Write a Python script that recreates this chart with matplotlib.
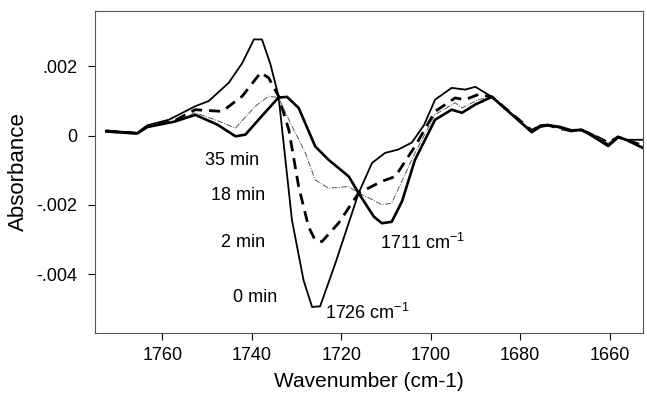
import matplotlib
matplotlib.use('Agg')
import matplotlib.pyplot as plt
from matplotlib import ticker

plt.rcParams['font.family'] = ['Liberation Sans', 'DejaVu Sans']
plt.rcParams['mathtext.fontset'] = 'custom'
plt.rcParams['mathtext.rm'] = 'Liberation Sans'
plt.rcParams['mathtext.it'] = 'Liberation Sans:italic'

# spectra (wavenumber in cm-1, absorbance)
wn_0min = [1772.5, 1765.6, 1763.3, 1758.5, 1752.6, 1749.6, 1745.1, 1742.1, 1739.5, 1737.7,
           1735.8, 1734.0, 1731.0, 1728.4, 1726.5, 1724.7, 1721.3, 1716.1, 1713.1, 1710.2,
           1707.2, 1704.2, 1701.5, 1699.0, 1695.3, 1692.3, 1690.0, 1686.3, 1677.4, 1675.5,
           1673.7, 1671.0, 1668.5, 1666.3, 1664.0, 1660.3, 1658.1, 1656.6, 1652.5]
abs_0min = [0.00015, 0.00008, 0.0003, 0.00046, 0.00085, 0.001, 0.00153, 0.0021, 0.00278, 0.00278,
            0.00206, 0.00114, -0.00244, -0.00418, -0.00495, -0.00493, -0.00369, -0.00166, -0.00079, -0.0005,
            -0.0004, -0.0002, 0.0003, 0.00104, 0.00138, 0.00133, 0.00141, 0.00112, 0.00012, 0.0003,
            0.00032, 0.00022, 0.00012, 0.00017, 0.00005, -0.00026, -0.00002, -0.00012, -0.00012]

wn_2min = [1772.5, 1765.6, 1763.3, 1757.4, 1752.6, 1746.6, 1742.1, 1738.0, 1736.2, 1734.0,
           1731.7, 1729.5, 1727.3, 1725.8, 1724.3, 1720.6, 1716.1, 1710.9, 1707.9, 1703.5,
           1699.0, 1694.5, 1692.3, 1689.3, 1686.3, 1677.4, 1675.5, 1673.7, 1671.0, 1668.5,
           1666.3, 1664.0, 1660.3, 1658.1, 1656.6, 1652.5]
abs_2min = [0.00013, 0.00007, 0.00027, 0.00042, 0.00075, 0.0007, 0.00114, 0.00182, 0.00167, 0.00114,
            0.00017, -0.00147, -0.00263, -0.00302, -0.00306, -0.00253, -0.00166, -0.00132, -0.00118, -0.00031,
            0.0007, 0.00109, 0.00104, 0.00119, 0.00112, 0.00015, 0.00028, 0.0003, 0.0002, 0.00014,
            0.00016, 0.00004, -0.0002, -0.00004, -0.0001, -0.00029]

wn_18min = [1772.5, 1765.6, 1763.3, 1757.4, 1752.6, 1748.0, 1743.6, 1739.2, 1736.2, 1734.0,
            1731.7, 1728.0, 1725.8, 1722.8, 1718.3, 1716.1, 1713.0, 1710.9, 1708.7, 1703.5,
            1699.0, 1694.5, 1693.0, 1689.3, 1686.3, 1677.4, 1675.5, 1673.7, 1671.0, 1668.5,
            1666.3, 1664.0, 1660.3, 1658.1, 1656.6, 1652.5]
abs_18min = [0.00013, 0.00007, 0.00026, 0.00041, 0.00066, 0.00045, 0.00022, 0.00085, 0.00114, 0.0011,
             0.00046, -0.0005, -0.00128, -0.00152, -0.00147, -0.00166, -0.00185, -0.002, -0.00195, -0.0005,
             0.00061, 0.00095, 0.0008, 0.00104, 0.00112, 0.00013, 0.00027, 0.0003, 0.00021, 0.00013,
             0.00016, 0.00003, -0.00022, -0.00003, -0.00011, -0.00032]

wn_35min = [1772.5, 1765.6, 1763.3, 1757.4, 1752.6, 1747.7, 1743.6, 1741.4, 1737.5, 1734.0,
            1732.1, 1729.5, 1725.8, 1722.8, 1718.3, 1716.1, 1712.7, 1710.9, 1708.7, 1706.4,
            1703.5, 1699.0, 1695.3, 1693.0, 1690.0, 1686.3, 1677.4, 1675.5, 1673.7, 1671.0,
            1668.5, 1666.3, 1664.0, 1660.3, 1658.1, 1656.6, 1652.5]
abs_35min = [0.00012, 0.00006, 0.00025, 0.0004, 0.0006, 0.00032, -0.00002, 0.00003, 0.0006, 0.0011,
             0.00112, 0.0008, -0.00031, -0.0007, -0.00118, -0.00166, -0.00234, -0.00253, -0.00249, -0.0019,
             -0.0007, 0.00046, 0.00075, 0.00066, 0.0009, 0.00112, 0.0001, 0.00026, 0.0003, 0.00025,
             0.00015, 0.00017, 0.0, -0.0003, -0.00005, -0.0001, -0.00036]

time_labels = ['35 min', '18 min', '2 min', '0 min']
time_label_x = [1738.3, 1737.0, 1737.0, 1734.3]
time_label_y = [-0.00073, -0.00174, -0.0031, -0.00467]

peak_labels = ['1726 cm$^{-1}$', '1711 cm$^{-1}$']
peak_label_x = [1723.6, 1711.3]
peak_label_y = [-0.00513, -0.0031]

x_ticks = [1760, 1740, 1720, 1700, 1680, 1660]
y_ticks = [-0.004, -0.002, 0, 0.002]
y_tick_labels = ['-.004', '-.002', '0', '.002']

fig = plt.figure(figsize=(6.47, 3.94), dpi=100)
ax = fig.add_axes([0.147, 0.155, 0.847, 0.817])

ax.plot(wn_0min, abs_0min, color='black', lw=1.3)
ax.plot(wn_2min, abs_2min, color='black', lw=2.0, ls=(0, (4, 2.5)))
ax.plot(wn_18min, abs_18min, color='#555555', lw=0.7, ls=(0, (6, 1.5, 1, 1.5)))
ax.plot(wn_35min, abs_35min, color='black', lw=1.9)

for t, x, y in zip(time_labels, time_label_x, time_label_y):
    ax.text(x, y, t, ha='right', va='center', fontsize=13)
for t, x, y in zip(peak_labels, peak_label_x, peak_label_y):
    ax.text(x, y, t, ha='left', va='center', fontsize=13)

ax.set_xlim(1775, 1652.5)
ax.set_ylim(-0.0057, 0.0036)
ax.set_xticks(x_ticks)
ax.set_yticks(y_ticks)
ax.yaxis.set_major_formatter(ticker.FixedFormatter(y_tick_labels))
ax.tick_params(direction='out', length=5, width=0.8, labelsize=13, colors='black')
ax.tick_params(axis='y', pad=8)
ax.tick_params(axis='x', pad=5)

for s in ax.spines.values():
    s.set_color('#555555')
    s.set_linewidth(0.8)

ax.set_xlabel('Wavenumber (cm-1)', fontsize=15, labelpad=6)
ax.set_ylabel('Absorbance', fontsize=16, labelpad=5)

fig.savefig('out.png', dpi=100)
